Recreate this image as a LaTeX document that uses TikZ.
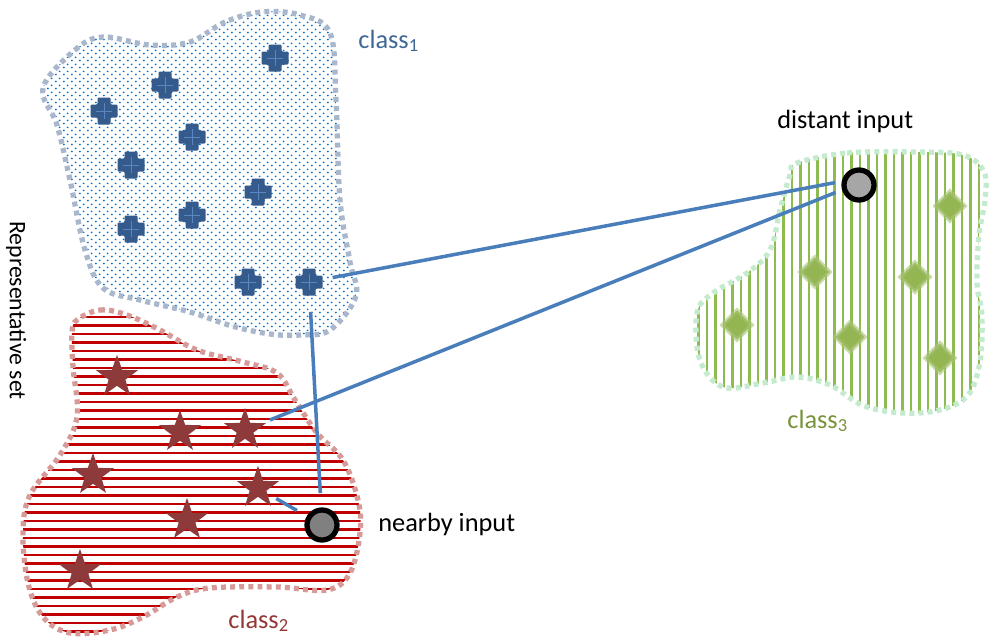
\documentclass[tikz,border=0pt]{standalone}
\usepackage{fontspec}
\setmainfont{Carlito}
\usepackage{xcolor}
\usepackage{tikz}
\definecolor{dotblue}{HTML}{0070D0}
\definecolor{rimblue}{HTML}{A9B7CC}
\definecolor{stripered}{HTML}{C00000}
\definecolor{rimred}{HTML}{D69A98}
\definecolor{stripegreen}{HTML}{8EBB50}
\definecolor{rimgreen}{HTML}{C4EBCE}
\definecolor{crossblue}{HTML}{355B8C}
\definecolor{crossline}{HTML}{5B86C0}
\definecolor{starred}{HTML}{8E3A3A}
\definecolor{diamondgreen}{HTML}{93B552}
\definecolor{linkblue}{HTML}{4A7EBB}
\definecolor{fargray}{HTML}{A6A6A6}
\definecolor{neargray}{HTML}{808080}
\definecolor{labelblue}{HTML}{3F6796}
\definecolor{labelred}{HTML}{953735}
\definecolor{labelgreen}{HTML}{77933C}
\usetikzlibrary{shapes.geometric, patterns, positioning}

\pgfdeclarepatternformonly{bluedots}{\pgfqpoint{0pt}{0pt}}{\pgfqpoint{4.4pt}{4pt}}{\pgfqpoint{4.4pt}{4pt}}{%
  \pgfpathcircle{\pgfqpoint{1.1pt}{1pt}}{0.6pt}%
  \pgfpathcircle{\pgfqpoint{3.3pt}{3pt}}{0.6pt}%
  \pgfusepath{fill}}

\begin{document}
\begin{tikzpicture}[
    x=0.02cm, y=-0.02cm,
    blob/.style={line width=3pt, dash pattern=on 2.8pt off 2.4pt},
    stripe/.style={solid, line width=1.2pt},
    dotblob/.style={blob, draw=rimblue, pattern=bluedots, pattern color=dotblue},
    redblob/.style={blob, draw=rimred, path picture={
        \foreach \y in {300,308.5,...,645} \draw[stripe, stripered] (0,\y) -- (400,\y);}},
    greenblob/.style={blob, draw=rimgreen, path picture={
        \foreach \x in {690,698.5,...,995} \draw[stripe, stripegreen] (\x,140) -- (\x,430);}},
    starmark/.style={star, star points=5, star point ratio=2.5, fill=starred, minimum size=0.88cm, inner sep=0pt},
    diamondmark/.style={diamond, fill=diamondgreen, draw=diamondgreen!80, draw opacity=0.6, line width=2.4pt, minimum size=0.62cm, inner sep=0pt},
    inputpt/.style={circle, draw=black, line width=3pt, minimum size=0.6cm, inner sep=0pt},
    link/.style={draw=linkblue, line width=2pt},
    label/.style={font=\fontsize{15}{18}\selectfont, inner sep=0pt},
    plusmark/.pic={
        \fill[crossblue, rounded corners=0.6pt] (-6.5,-13.5) -- (6.5,-13.5) -- (6.5,-6.5) -- (13.5,-6.5) -- (13.5,6.5) -- (6.5,6.5)
            -- (6.5,13.5) -- (-6.5,13.5) -- (-6.5,6.5) -- (-13.5,6.5) -- (-13.5,-6.5) -- (-6.5,-6.5) -- cycle;
        \draw[crossline, line width=0.4pt] (-8,0) -- (8,0) (0,-8) -- (0,8);
    }
]
\useasboundingbox (0,0) rectangle (990,637);

\draw[dotblob] plot[smooth cycle, tension=0.6] coordinates {
    (43,88) (75,50) (103,37) (150,45) (190,42) (225,22) (262,12) (300,15) (330,33)
    (336,100) (340,200) (350,262) (356,296) (330,330) (300,335) (270,334) (232,326)
    (190,312) (140,300) (103,288) (85,250) (70,180) (57,125)};
\draw[redblob] plot[smooth cycle, tension=0.6] coordinates {
    (77,320) (100,310) (127,315) (160,330) (197,350) (243,362) (277,373) (295,400)
    (317,433) (343,460) (358,500) (360,533) (350,573) (327,590) (277,587) (210,588)
    (177,597) (143,617) (110,630) (70,633) (43,617) (28,583) (23,533) (30,495)
    (60,455) (77,417) (73,367) (72,333)};
\draw[greenblob] plot[smooth cycle, tension=0.6] coordinates {
    (797,163) (847,153) (913,152) (963,155) (984,172) (985,200) (979,235) (977,283)
    (982,317) (979,367) (963,400) (920,413) (867,407) (830,385) (797,377) (763,383)
    (723,387) (700,360) (697,313) (713,293) (747,273) (770,250) (780,210) (790,175)};

\foreach \i/\x/\y in {1/275/58, 2/165/85, 3/104/111, 4/192/137, 5/131/165,
                      6/258/192, 7/192/215, 8/131/229, 9/248/282, 10/309/282}{
    \coordinate (c\i) at (\x,\y);
    \pic at (c\i) {plusmark};
}
\foreach \i/\x/\y in {1/117/377, 2/180/432, 3/245/430, 4/93/475, 5/258/488, 6/187/520, 7/80/571}
    \node[starmark] (s\i) at (\x,\y) {};
\foreach \i/\x/\y in {1/950/206, 2/815/272, 3/915/277, 4/737/325, 5/850/337, 6/940/358}
    \node[diamondmark] (d\i) at (\x,\y) {};

\node[inputpt, fill=fargray] (far) at (859,185) {};
\node[inputpt, fill=neargray] (near) at (322,525) {};

\draw[link, shorten <=0.48cm, shorten >=0.14cm] (c10) -- (far.168);
\draw[link, shorten <=0.54cm, shorten >=0.14cm] (s3.center) -- (far.196);
\draw[link, shorten <=0.6cm, shorten >=0.64cm] (c10) -- (near.center);
\draw[link, shorten <=0.42cm, shorten >=0.58cm] (s5.center) -- (near.center);

\node[label, anchor=base west] (farlabel) at (777,128) {distant input};
\node[label, anchor=base west] (nearlabel) at (378,531) {nearby input};
\node[label, anchor=base west, text=labelblue] (name1) at (358,48) {class\textsubscript{1}};
\node[label, anchor=base west, text=labelred] (name2) at (228,628) {class\textsubscript{2}};
\node[label, anchor=base west, text=labelgreen] (name3) at (787,428) {class\textsubscript{3}};
\node[label, font=\fontsize{13.5}{16}\selectfont, rotate=-90, anchor=base west] (setlabel) at (10,221) {Representative set};

\end{tikzpicture}
\end{document}
